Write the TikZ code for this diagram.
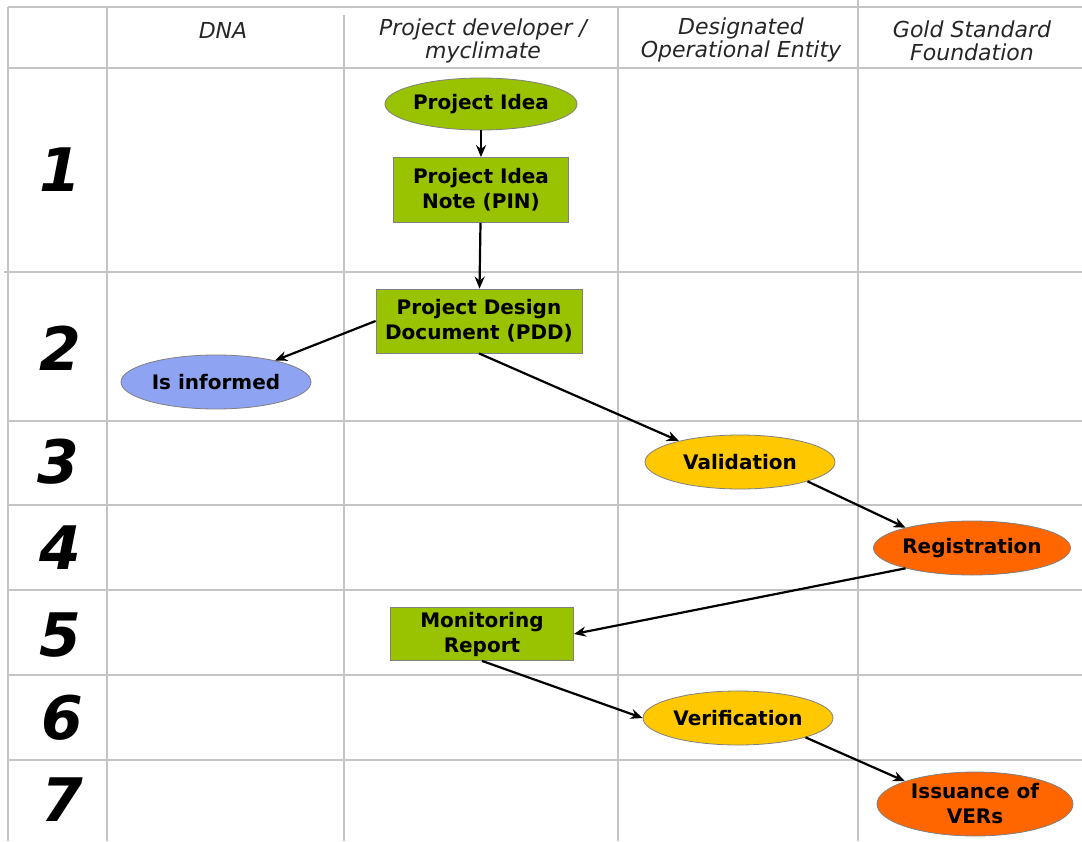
\documentclass[tikz,border=0pt]{standalone}
\usepackage{fontspec}
\setmainfont{DejaVu Sans}
\usetikzlibrary{shapes.geometric,arrows.meta}

\definecolor{leaf}{HTML}{99C200}
\definecolor{sky}{HTML}{8EA3F2}
\definecolor{gold}{HTML}{FFC800}
\definecolor{rust}{HTML}{FF6600}
\definecolor{rule}{HTML}{C4C4C4}

\tikzset{
  grid/.style={rule, line width=1pt},
  flow/.style={-{Stealth[length=6pt,width=5pt]}, line width=1.1pt},
  stage/.style={ellipse, draw=gray, inner sep=0pt, minimum width=95pt, minimum height=27pt,
    align=center, font=\bfseries\fontsize{10}{12.5}\selectfont},
  doc/.style={rectangle, draw=gray, fill=leaf, inner sep=0pt, align=center,
    font=\bfseries\fontsize{10}{12.5}\selectfont},
  head/.style={align=center, text=black!85, font=\itshape\fontsize{11}{11.5}\selectfont},
  num/.style={font=\bfseries\itshape\fontsize{30}{30}\selectfont}
}

\begin{document}
\begin{tikzpicture}[x=0.5pt, y=-0.5pt]
    \useasboundingbox (0,0) rectangle (1082,841);

    \draw[grid] (8,7) -- (1082,7);
    \foreach \y in {68,421,505,590,675,760}
        \draw[grid] (8,\y) -- (1082,\y);
    \draw[grid] (4,272) -- (1082,272);
    \foreach \x in {8,107,618}
        \draw[grid] (\x,7) -- (\x,841);
    \draw[grid] (344,15) -- (344,841);
    \draw[grid] (858,0) -- (858,841);

    \node[head] (hdna) at (223,30) {DNA};
    \node[head] (hdev) at (483,41) {Project developer /\\myclimate};
    \node[head] (hdoe) at (741,40) {Designated\\Operational Entity};
    \node[head] (hgsf) at (972,41) {Gold Standard\\Foundation};

    \foreach \n/\x/\y in {1/60/170, 2/60/348, 3/58/462, 4/60/548, 5/60/635, 6/62/718, 7/62/800}
        \node[num] (r\n) at (\x,\y) {\n};

    \node[stage, fill=leaf, minimum height=26pt] (idea) at (481,104) {Project Idea};
    \node[doc, minimum width=87.5pt, minimum height=32.5pt] (pin) at (481,190) {Project Idea\\Note (PIN)};
    \node[doc, minimum width=103pt, minimum height=32pt] (pdd) at (479,321) {Project Design\\Document (PDD)};
    \node[stage, fill=sky] (inf) at (216,382) {Is informed};
    \node[stage, fill=gold] (val) at (740,462) {Validation};
    \node[stage, fill=rust] (reg) at (972,548) {Registration};
    \node[doc, minimum width=91.5pt, minimum height=26.5pt] (mon) at (482,634) {Monitoring\\Report};
    \node[stage, fill=gold] (ver) at (738,718) {Verification};
    \node[stage, fill=rust, minimum width=98pt, minimum height=32pt] (ver2) at (975,804) {Issuance of\\VERs};

    \draw[flow] (idea) -- (pin);
    \draw[flow] (pin) -- (pdd);
    \draw[flow] (pdd.west) -- (inf.20);
    \draw[flow] (pdd.south) -- (val.161);
    \draw[flow] (val.-16) -- (reg.163);
    \draw[flow] (reg.-163) -- (mon.east);
    \draw[flow] (mon.south) -- (ver.west);
    \draw[flow] (ver.-16) -- (ver2.162);
\end{tikzpicture}
\end{document}
